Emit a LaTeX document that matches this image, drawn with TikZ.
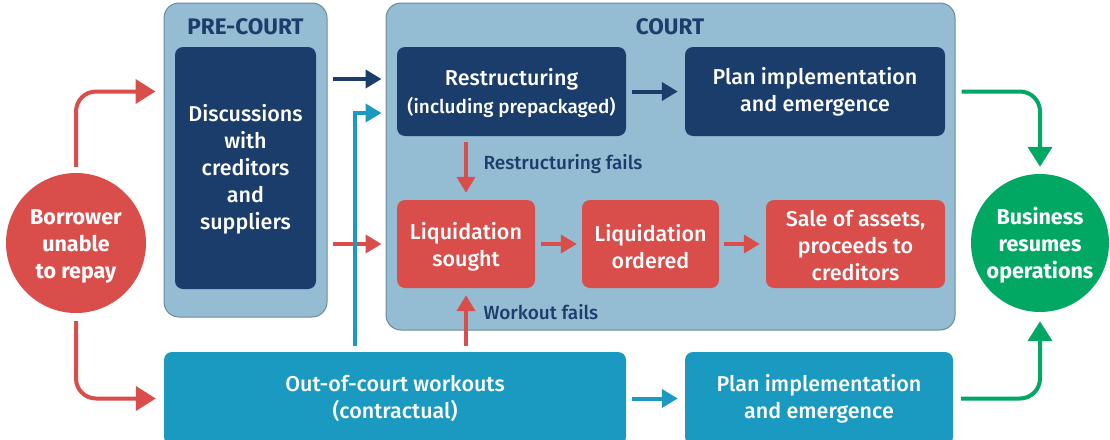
\documentclass[tikz,border=0pt]{standalone}
\usepackage{fontspec}
\setmainfont{Fira Sans}
\newfontfamily\medfont{Fira Sans Medium}
\usetikzlibrary{arrows.meta,calc}
\definecolor{navy}{HTML}{1B3D6B}
\definecolor{cred}{HTML}{D94D4B}
\definecolor{lblue}{HTML}{94BDD3}
\definecolor{lborder}{HTML}{6D8A9B}
\definecolor{ccyan}{HTML}{1A9AC1}
\definecolor{cgreen}{HTML}{00A864}
\tikzset{
  container/.style={rectangle, rounded corners=15pt, fill=lblue, draw=lborder, line width=1pt, inner sep=0pt},
  boxbase/.style={rectangle, rounded corners=8pt, inner sep=0pt, text=white, align=center, font=\medfont\fontsize{21.5}{27}\selectfont},
  navybox/.style={boxbase, fill=navy},
  redbox/.style={boxbase, fill=cred},
  cyanbox/.style={boxbase, fill=ccyan},
  circ/.style={circle, inner sep=0pt, text=white, align=center, font=\bfseries\fontsize{21.5}{27}\selectfont},
  title/.style={text=navy, font=\bfseries\fontsize{22.5}{26}\selectfont},
  lbl/.style={text=navy, anchor=west, font=\medfont\fontsize{19}{22}\selectfont},
  bigarr/.style={line width=4pt, -{Triangle[length=20pt,width=24pt]}},
  smallarr/.style={line width=4pt, -{Triangle[length=16pt,width=18pt]}},
}
\begin{document}
\begin{tikzpicture}[x=1pt,y=-1pt]
\useasboundingbox (0,0) rectangle (1110,439);
% containers
\node[container, minimum width=163pt, minimum height=314pt] (precourt) at (245.5,160) {};
\node[container, minimum width=569pt, minimum height=327pt] (court) at (670.5,166.5) {};
\node[title] (pctitle) at (245.5,27) {PRE-COURT};
\node[title] (ctitle) at (670,27) {COURT};
% boxes
\node[navybox, minimum width=141pt, minimum height=242pt] (disc) at (245.5,168) {\rule{0pt}{19pt}Discussions\\with\\creditors\\and\\suppliers};
\node[navybox, minimum width=229pt, minimum height=89pt] (restr) at (511.5,91.5) {\rule{0pt}{21pt}Restructuring\\[1pt]{\fontsize{19}{22}\selectfont (including prepackaged)}};
\node[navybox, minimum width=260pt, minimum height=89pt] (plan1) at (815,91.5) {\rule{0pt}{18pt}Plan implementation\\and emergence};
\node[redbox, minimum width=138pt, minimum height=88pt] (liqs) at (466,244) {\rule{0pt}{22pt}Liquidation\\sought};
\node[redbox, minimum width=137pt, minimum height=88pt] (liqo) at (650.5,244) {\rule{0pt}{22pt}Liquidation\\ordered};
\node[redbox, minimum width=179pt, minimum height=88pt] (sale) at (855.5,244) {\rule{0pt}{20pt}Sale of assets,\\proceeds to\\creditors};
\node[cyanbox, minimum width=462pt, minimum height=93pt] (ooc) at (395,398.5) {Out-of-court workouts\\(contractual)};
\node[cyanbox, minimum width=268pt, minimum height=93pt] (plan2) at (819,398.5) {Plan implementation\\and emergence};
\node[circ, fill=cred, minimum size=140pt] (borrower) at (76,243) {\rule{0pt}{22pt}Borrower\\unable\\to repay};
\node[circ, fill=cgreen, minimum size=138pt] (business) at (1040,243) {\rule{0pt}{22pt}Business\\resumes\\operations};
% helper coordinates
\coordinate (yA) at (0,79);
\coordinate (cyanx) at (355,0);
\coordinate (yC) at (0,113);
% arrows from borrower
\draw[cred, bigarr, rounded corners=20pt, shorten <=6pt, shorten >=8pt] (borrower.north) |- (precourt.west |- restr.center);
\draw[cred, bigarr, rounded corners=20pt, shorten <=8pt, shorten >=8pt] (borrower.south) |- (ooc.west);
% precourt to court
\draw[navy, smallarr, shorten <=5pt, shorten >=4pt] (precourt.east |- yA) -- (court.west |- yA);
\draw[cred, smallarr, shorten <=5pt, shorten >=4pt] (precourt.east |- liqs) -- (court.west |- liqs);
\draw[ccyan, smallarr, shorten <=6pt, shorten >=4pt] (ooc.north -| cyanx) |- (court.west |- yC);
% inside court
\draw[navy, smallarr, shorten <=6pt, shorten >=7pt] (restr) -- (plan1);
\draw[cred, smallarr, shorten <=6pt, shorten >=5pt] (liqs) -- (liqo);
\draw[cred, smallarr, shorten <=5pt, shorten >=6pt] (liqo) -- (sale);
\draw[cred, smallarr, shorten <=6pt, shorten >=7pt] (restr.south -| liqs) -- (liqs.north);
\draw[cred, smallarr, shorten <=6pt, shorten >=7pt] (ooc.north -| liqs) -- (liqs.south);
\draw[ccyan, smallarr, shorten <=6pt, shorten >=7pt] (ooc.east |- plan2) -- (plan2.west);
% to business
\draw[cgreen, bigarr, rounded corners=20pt, shorten <=6pt, shorten >=7pt] (court.east |- plan1) -| (business.north);
\draw[cgreen, bigarr, rounded corners=20pt, shorten <=8pt, shorten >=9pt] (plan2.east) -| (business.south);
% labels
\node[lbl] (rfails) at (480,164) {Restructuring fails};
\node[lbl] (wfails) at (480,312) {Workout fails};
\end{tikzpicture}
\end{document}
